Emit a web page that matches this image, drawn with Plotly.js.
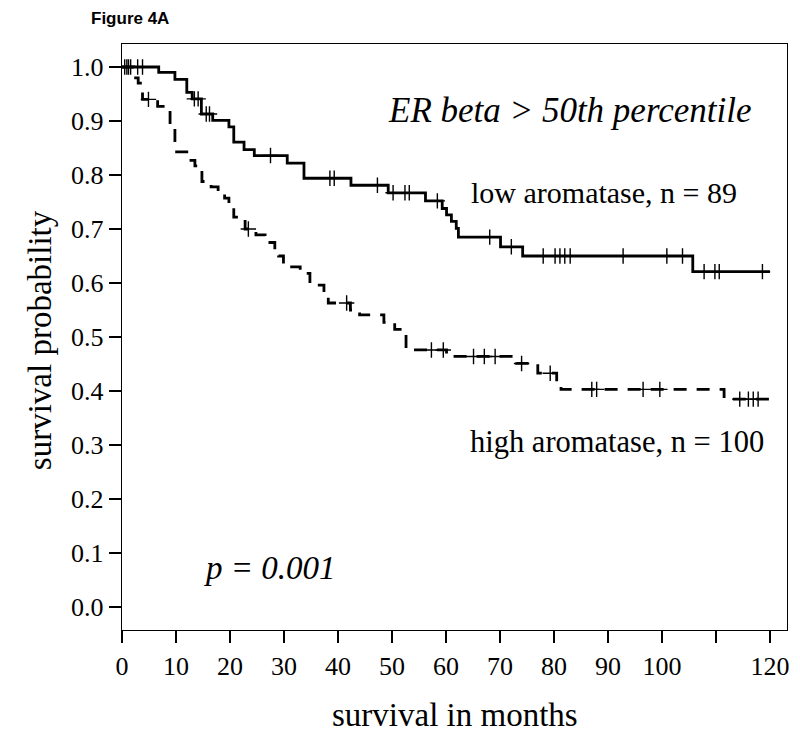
<!DOCTYPE html>
<html>
<head>
<meta charset="utf-8">
<script src="https://cdn.plot.ly/plotly-3.0.1.min.js"></script>
<style>html,body{margin:0;padding:0;background:#fff;}#chart{width:800px;height:742px;}</style>
</head>
<body>
<div id="chart"></div>
<script>
// ---- data (Kaplan-Meier step curves) ----
const lowTimes = [0, 6.8, 9.8, 12.0, 13.0, 14.7, 16.8, 19.8, 20.7, 22.6, 24.5, 30.6, 33.7, 42.4, 49.3, 56.2, 59.3, 60.1, 61.0, 61.9, 62.3, 70.1, 74.2, 105.7, 120];
const lowSurv  = [1.0, 0.99, 0.977, 0.953, 0.941, 0.913, 0.901, 0.889, 0.861, 0.847, 0.836, 0.822, 0.794, 0.781, 0.767, 0.752, 0.738, 0.726, 0.714, 0.701, 0.685, 0.667, 0.65, 0.621, 0.621];
const lowCensor = [0.5, 0.9, 1.2, 1.6, 2.9, 3.8, 13.4, 14.1, 15.6, 16.2, 27.5, 38.5, 39.3, 47.3, 50.2, 52.4, 53.2, 58.4, 68.1, 72.1, 78.0, 80.2, 81.1, 82.0, 83.0, 92.8, 100.9, 103.8, 107.8, 109.8, 110.6, 118.6];

const highTimes = [0, 2.2, 3.0, 3.8, 6.6, 8.9, 9.8, 12.0, 13.5, 14.8, 16.5, 17.8, 19.0, 19.8, 20.7, 22.8, 24.8, 26.5, 28.3, 29.0, 29.9, 33.0, 34.8, 37.4, 38.2, 42.3, 44.0, 48.5, 50.5, 52.6, 60.1, 73.1, 77.0, 80.5, 81.3, 111.5, 120];
const highSurv  = [1.0, 0.98, 0.97, 0.94, 0.927, 0.89, 0.843, 0.827, 0.817, 0.788, 0.778, 0.769, 0.757, 0.744, 0.722, 0.70, 0.689, 0.675, 0.661, 0.65, 0.63, 0.618, 0.596, 0.575, 0.563, 0.55, 0.541, 0.527, 0.514, 0.476, 0.464, 0.451, 0.433, 0.417, 0.403, 0.385, 0.385];
const highCensor = [4.9, 23.4, 41.6, 57.3, 59.5, 65.1, 67.1, 69.1, 74.0, 79.3, 87.0, 87.9, 96.5, 99.6, 114.4, 116.0, 116.9, 117.8];

const xTickVals = [0, 10, 20, 30, 40, 50, 60, 70, 80, 90, 100, 110, 120];
const xTickText = ['0', '10', '20', '30', '40', '50', '60', '70', '80', '90', '100', '', '120'];
const yTickVals = [0, 0.1, 0.2, 0.3, 0.4, 0.5, 0.6, 0.7, 0.8, 0.9, 1.0];
const yTickText = ['0.0', '0.1', '0.2', '0.3', '0.4', '0.5', '0.6', '0.7', '0.8', '0.9', '1.0'];

function survAt(times, surv, t) {
  let v = surv[0];
  for (let i = 0; i < times.length; i++) { if (times[i] <= t) v = surv[i]; }
  return v;
}

const serif = 'Liberation Serif, Times New Roman, serif';
const censorMarker = {symbol: 'cross-thin', size: 11, color: 'black', line: {color: 'black', width: 1.4}};

const traces = [
  {x: lowTimes, y: lowSurv, mode: 'lines', line: {shape: 'hv', color: 'black', width: 2.8}, hoverinfo: 'skip'},
  {x: lowCensor, y: lowCensor.map(t => survAt(lowTimes, lowSurv, t)), mode: 'markers', marker: censorMarker, hoverinfo: 'skip'},
  {x: highTimes, y: highSurv, mode: 'lines', line: {shape: 'hv', color: 'black', width: 2.8, dash: '13px,10px'}, hoverinfo: 'skip'},
  {x: highCensor, y: highCensor.map(t => survAt(highTimes, highSurv, t)), mode: 'markers', marker: censorMarker, hoverinfo: 'skip'}
];

const axisCommon = {
  showgrid: false, zeroline: false, showline: true, mirror: true,
  linecolor: 'black', linewidth: 1.3, ticks: 'outside', ticklen: 12, tickwidth: 1.3, tickcolor: 'black',
  tickfont: {family: serif, size: 26, color: 'black'}
};

const layout = {
  width: 800, height: 742,
  margin: {l: 122, r: 13, t: 44, b: 112},
  paper_bgcolor: 'white', plot_bgcolor: 'white',
  showlegend: false,
  xaxis: Object.assign({}, axisCommon, {range: [0, 123.15], tickmode: 'array', tickvals: xTickVals, ticktext: xTickText}),
  yaxis: Object.assign({}, axisCommon, {range: [-0.0426, 1.0426], tickmode: 'array', tickvals: yTickVals, ticktext: yTickText}),
  annotations: [
    {text: '<b>Figure 4A</b>', xref: 'paper', yref: 'paper', x: -0.05, y: 1.043, xanchor: 'left', yanchor: 'middle', showarrow: false, font: {family: 'Liberation Sans, Arial, sans-serif', size: 17, color: 'black'}},
    {text: '<i>ER beta &gt; 50th percentile</i>', xref: 'x', yref: 'y', x: 83, y: 0.92, xanchor: 'center', yanchor: 'middle', showarrow: false, font: {family: serif, size: 35, color: 'black'}},
    {text: 'low aromatase, n = 89', xref: 'x', yref: 'y', x: 89.3, y: 0.767, xanchor: 'center', yanchor: 'middle', showarrow: false, font: {family: serif, size: 30, color: 'black'}},
    {text: 'high aromatase, n = 100', xref: 'x', yref: 'y', x: 91.6, y: 0.306, xanchor: 'center', yanchor: 'middle', showarrow: false, font: {family: serif, size: 30.5, color: 'black'}},
    {text: '<i>p = 0.001</i>', xref: 'x', yref: 'y', x: 27.4, y: 0.072, xanchor: 'center', yanchor: 'middle', showarrow: false, font: {family: serif, size: 33, color: 'black'}},
    {text: 'survival probability', xref: 'paper', yref: 'paper', x: -0.123, y: 0.495, xanchor: 'center', yanchor: 'middle', textangle: -90, showarrow: false, font: {family: serif, size: 33, color: 'black'}},
    {text: 'survival in months', xref: 'paper', yref: 'paper', x: 0.5, y: -0.145, xanchor: 'center', yanchor: 'middle', showarrow: false, font: {family: serif, size: 33, color: 'black'}}
  ]
};

Plotly.newPlot('chart', traces, layout, {staticPlot: true, displayModeBar: false});
</script>
</body>
</html>
